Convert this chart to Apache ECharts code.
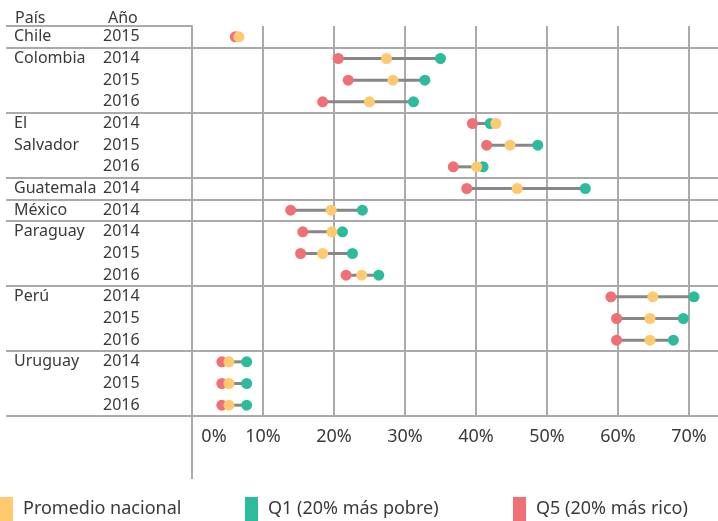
<!DOCTYPE html>
<html>
<head>
    <meta charset="utf-8">
    <title>Brecha por quintil</title>
    <script src="https://cdn.jsdelivr.net/npm/echarts@6.0.0/dist/echarts.min.js"></script>
    <style>
        html, body { margin: 0; padding: 0; background: #fff; }
        #main { width: 718px; height: 521px; }
    </style>
</head>
<body>
    <div id="main"></div>
    <script>
        var myChart = echarts.init(document.getElementById('main'));

        // filas (de arriba hacia abajo)
        const countryLabels = ['Chile', 'Colombia', '', '', 'El', 'Salvador', '', 'Guatemala', 'México',
            'Paraguay', '', '', 'Perú', '', '', 'Uruguay', '', ''];
        const years = ['2015', '2014', '2015', '2016', '2014', '2015', '2016', '2014', '2014',
            '2014', '2015', '2016', '2014', '2015', '2016', '2014', '2015', '2016'];
        // índice de la primera fila de cada país
        const groupStarts = [0, 1, 4, 7, 8, 9, 12, 15];

        // valores en %
        const promedio = [6.6, 27.4, 28.3, 25.0, 42.8, 44.8, 40.1, 45.8, 19.6, 19.7, 18.4, 23.9, 64.9, 64.5, 64.5, 5.2, 5.2, 5.2];
        const q1 = [null, 35.0, 32.8, 31.2, 42.0, 48.7, 41.0, 55.4, 24.0, 21.2, 22.6, 26.3, 70.7, 69.2, 67.8, 7.7, 7.7, 7.7];
        const q5 = [6.1, 20.6, 22.0, 18.4, 39.5, 41.5, 36.8, 38.7, 13.9, 15.6, 15.3, 21.7, 59.0, 59.8, 59.8, 4.2, 4.2, 4.2];

        const colors = { prom: '#FFC96F', q1: '#2DBC9B', q5: '#F07175' };
        const gray = '#AAAAAC';
        const textColor = '#3a3a3a';
        const font = 'Noto Sans';

        const rowKeys = years.map((y, i) => i + '-' + y);

        function points(arr) {
            return arr.map((v, i) => (v === null ? null : [v, i])).filter(d => d !== null);
        }

        const ranges = rowKeys.map((k, i) => {
            const vals = [promedio[i], q1[i], q5[i]].filter(v => v !== null);
            return [Math.min.apply(null, vals), Math.max.apply(null, vals), i];
        });

        const option = {
            animation: false,
            textStyle: { fontFamily: font },
            grid: { left: 192, width: 568, top: 26, bottom: 105, containLabel: false, outerBoundsMode: 'none' },
            xAxis: {
                type: 'value',
                min: 0,
                max: 80,
                interval: 10,
                axisLine: { show: false },
                axisTick: { show: false },
                splitLine: { show: true, lineStyle: { color: gray, width: 2 } },
                axisLabel: {
                    margin: 12,
                    fontSize: 18,
                    color: textColor,
                    fontFamily: font,
                    showMaxLabel: false,
                    formatter: v => (v === 0 ? '{z|0%}' : v + '%'),
                    rich: { z: { padding: [0, 0, 0, 44], fontSize: 18, color: textColor, fontFamily: font } }
                }
            },
            yAxis: [
                {
                    type: 'category',
                    inverse: true,
                    data: rowKeys,
                    axisLine: { show: true, lineStyle: { color: gray, width: 2 } },
                    axisTick: {
                        show: true,
                        length: 186,
                        interval: (index) => groupStarts.indexOf(index) >= 0,
                        lineStyle: { color: gray, width: 2 }
                    },
                    splitLine: {
                        show: true,
                        interval: (index) => index > 0 && groupStarts.indexOf(index) >= 0,
                        lineStyle: { color: gray, width: 2 }
                    },
                    axisLabel: {
                        align: 'left',
                        margin: 89,
                        fontSize: 16,
                        color: textColor,
                        fontFamily: font,
                        padding: [5, 0, 0, 0],
                        interval: 0,
                        formatter: (v, i) => years[i]
                    }
                },
                {
                    type: 'category',
                    inverse: true,
                    position: 'left',
                    data: rowKeys,
                    axisLine: { show: false },
                    axisTick: { show: false },
                    splitLine: { show: false },
                    axisLabel: {
                        align: 'left',
                        margin: 178,
                        fontSize: 16,
                        color: textColor,
                        fontFamily: font,
                        padding: [5, 0, 0, 0],
                        interval: 0,
                        formatter: (v, i) => countryLabels[i]
                    }
                }
            ],
            legend: [
                { data: ['Promedio nacional'], left: 0, top: 497 },
                { data: ['Q1 (20% más pobre)'], left: 245, top: 497 },
                { data: ['Q5 (20% más rico)'], left: 513, top: 497 }
            ].map(l => Object.assign(l, {
                padding: 0,
                icon: 'rect',
                itemWidth: 13,
                itemHeight: 24,
                textStyle: { fontSize: 18, color: textColor, fontFamily: font, padding: [0, 0, 0, 5] }
            })),
            graphic: [
                { type: 'text', left: 15, top: 10, style: { text: 'País', font: '16px "Noto Sans"', fill: textColor } },
                { type: 'text', left: 108, top: 10, style: { text: 'Año', font: '16px "Noto Sans"', fill: textColor } },
                { type: 'line', shape: { x1: 192, y1: 416, x2: 192, y2: 479 }, style: { stroke: gray, lineWidth: 2 } }
            ],
            series: [
                {
                    type: 'custom',
                    name: 'rango',
                    data: ranges,
                    encode: { x: [0, 1], y: 2 },
                    renderItem: function (params, api) {
                        const a = api.coord([api.value(0), api.value(2)]);
                        const b = api.coord([api.value(1), api.value(2)]);
                        return {
                            type: 'line',
                            shape: { x1: a[0], y1: a[1], x2: b[0], y2: b[1] },
                            style: { stroke: '#878787', lineWidth: 3 }
                        };
                    },
                    z: 2
                },
                {
                    name: 'Q5 (20% más rico)',
                    type: 'scatter',
                    symbolSize: 11,
                    itemStyle: { color: colors.q5, opacity: 1 },
                    data: points(q5),
                    z: 3
                },
                {
                    name: 'Q1 (20% más pobre)',
                    type: 'scatter',
                    symbolSize: 11,
                    itemStyle: { color: colors.q1, opacity: 1 },
                    data: points(q1),
                    z: 4
                },
                {
                    name: 'Promedio nacional',
                    type: 'scatter',
                    symbolSize: 11,
                    itemStyle: { color: colors.prom, opacity: 1 },
                    data: points(promedio),
                    z: 5
                }
            ]
        };

        myChart.setOption(option);
    </script>
</body>
</html>
